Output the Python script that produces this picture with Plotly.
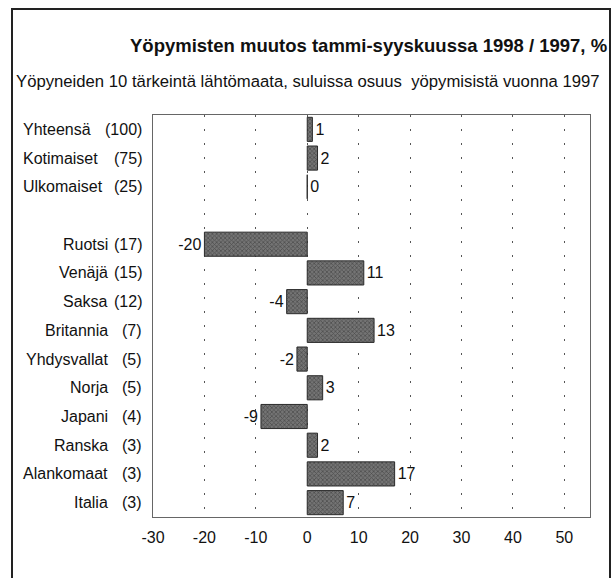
import plotly.graph_objects as go

names = ["Yhteensä", "Kotimaiset", "Ulkomaiset", " ", "Ruotsi", "Venäjä", "Saksa", "Britannia",
         "Yhdysvallat", "Norja", "Japani", "Ranska", "Alankomaat", "Italia"]
shares = ["(100)", "(75)", "(25)", "", "(17)", "(15)", "(12)", "(7)", "(5)", "(5)", "(4)", "(3)", "(3)", "(3)"]
changes = [1, 2, 0, None, -20, 11, -4, 13, -2, 3, -9, 2, 17, 7]
left_aligned = ["Yhteensä", "Kotimaiset", "Ulkomaiset"]
x_ticks = [-30, -20, -10, 0, 10, 20, 30, 40, 50]
x_tick_labels = ["-30", "-20", "-10", "0", "10", "20", "30", "40", "50"]

FONT = "Liberation Sans Narrow, Arial Narrow, Liberation Sans, Arial, sans-serif"

W, H = 616, 578
L, R, T, B = 153, 26, 115, 61
pw, ph = W - L - R, H - T - B

def px(x):
    return (x - L) / pw

def py(y):
    return (H - B - y) / ph

fig = go.Figure()
fig.add_trace(go.Bar(
    y=names, x=changes, orientation="h", width=0.84,
    marker=dict(color="#747474", line=dict(color="#2a2a2a", width=1),
                pattern=dict(shape="x", fgcolor="#2a2a2a", size=3, solidity=0.45)),
    text=[("" if v is None else str(v)) for v in changes],
    textposition="outside", cliponaxis=False, constraintext="none",
    textfont=dict(family=FONT, size=16, color="#111"),
    hoverinfo="skip",
))

annotations = []
for n, s in zip(names, shares):
    if not s:
        continue
    if n in left_aligned:
        annotations.append(dict(x=px(21), xref="paper", y=n, yref="y", text=n, showarrow=False,
                                xanchor="left", font=dict(family=FONT, size=16, color="#111")))
    else:
        annotations.append(dict(x=px(110), xref="paper", y=n, yref="y", text=n, showarrow=False,
                                xanchor="right", font=dict(family=FONT, size=16, color="#111")))
    annotations.append(dict(x=px(144), xref="paper", y=n, yref="y", text=s, showarrow=False,
                            xanchor="right", font=dict(family=FONT, size=16, color="#111")))

annotations.append(dict(x=px(609), xref="paper", y=py(45), yref="paper",
                        text="<b>Yöpymisten muutos tammi-syyskuussa 1998 / 1997, %</b>",
                        showarrow=False, xanchor="right", yanchor="middle",
                        font=dict(family=FONT, size=18.5, color="#111")))
annotations.append(dict(x=px(14), xref="paper", y=py(81), yref="paper",
                        text="Yöpyneiden 10 tärkeintä lähtömaata, suluissa osuus  yöpymisistä vuonna 1997",
                        showarrow=False, xanchor="left", yanchor="middle",
                        font=dict(family=FONT, size=16.7, color="#111")))

fig.update_layout(
    width=W, height=H, margin=dict(l=L, r=R, t=T, b=B),
    paper_bgcolor="white", plot_bgcolor="white",
    showlegend=False, annotations=annotations,
    shapes=[dict(type="rect", xref="paper", yref="paper", x0=px(12), x1=px(610), y0=-0.3, y1=py(9),
                 line=dict(color="#222", width=2), layer="below")],
    xaxis=dict(range=[-30, 55], tickvals=x_ticks, ticktext=x_tick_labels, showgrid=True, gridcolor="#555",
               griddash="2px,12px", gridwidth=1, zeroline=False,
               showline=True, mirror=True, linecolor="#666", linewidth=1,
               ticks="", ticklabelstandoff=6,
               tickfont=dict(family=FONT, size=16, color="#111")),
    yaxis=dict(categoryorder="array", categoryarray=names, range=[13.5, -0.5],
               showticklabels=False, showgrid=False, zeroline=False,
               showline=True, mirror=True, linecolor="#666", linewidth=1, ticks=""),
)

fig.write_html("out.html", config={"displayModeBar": False},
               post_script="document.body.style.margin='0';")
